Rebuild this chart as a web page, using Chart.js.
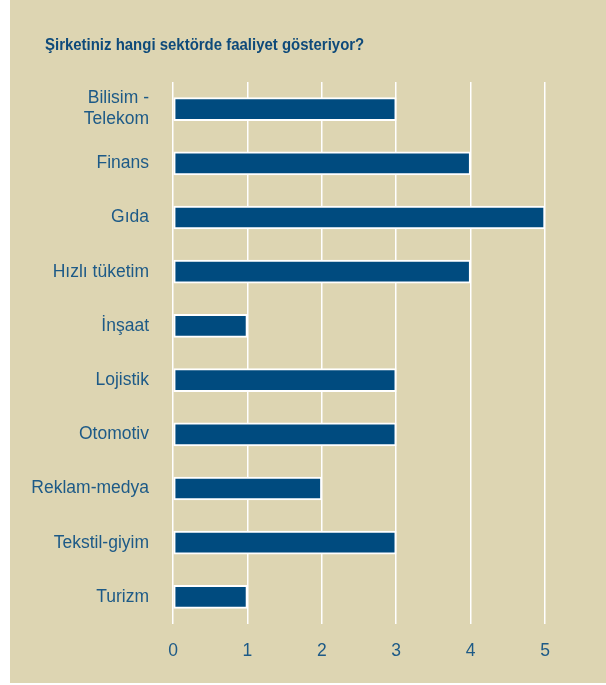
<!DOCTYPE html>
<html>
<head>
<meta charset="utf-8">
<script src="https://cdn.jsdelivr.net/npm/chart.js@4"></script>
<style>
  html, body { margin: 0; padding: 0; background: #fff; }
  #wrap { width: 606px; height: 685px; position: relative; }
</style>
</head>
<body>
<div id="wrap"><canvas id="barCanvas"></canvas></div>
<script>
const titleText = "Şirketiniz hangi sektörde faaliyet gösteriyor?";
const sectors = [
  ["Bilisim -", "Telekom"],
  "Finans",
  "Gıda",
  "Hızlı tüketim",
  "İnşaat",
  "Lojistik",
  "Otomotiv",
  "Reklam-medya",
  "Tekstil-giyim",
  "Turizm",
];
const counts = [3, 4, 5, 4, 1, 3, 3, 2, 3, 1];
const xTicks = [0, 1, 2, 3, 4, 5];

const textColor = "#1d5a87";
const fontFamily = "'Liberation Sans', Arial, sans-serif";

const backgroundPlugin = {
  id: "beige_panel",
  beforeDraw: (chart) => {
    const ctx = chart.ctx;
    ctx.save();
    ctx.fillStyle = "#ddd5b2";
    ctx.fillRect(10, 0, chart.width - 10, 683);
    // title is a little condensed in the original
    ctx.translate(45, 50);
    ctx.scale(0.935, 1);
    ctx.font = "bold 16px " + fontFamily;
    ctx.fillStyle = "#0e4a7a";
    ctx.textBaseline = "alphabetic";
    ctx.fillText(titleText, 0, 0);
    ctx.restore();
  },
};

const data = {
  labels: sectors,
  datasets: [
    {
      data: counts,
      backgroundColor: "#004b7f",
      borderColor: "#ffffff",
      borderWidth: 2,
      borderSkipped: false,
      barThickness: 23,
    },
  ],
};

const config = {
  type: "bar",
  data: data,
  options: {
    indexAxis: "y",
    responsive: true,
    maintainAspectRatio: false,
    animation: false,
    layout: {
      padding: { top: 82, right: 61, bottom: 21, left: 0 },
    },
    plugins: {
      legend: { display: false },
      title: { display: false },
      tooltip: { enabled: false },
    },
    scales: {
      x: {
        min: 0,
        max: 5,
        afterBuildTicks: (scale) => {
          scale.ticks = xTicks.map((v) => ({ value: v }));
        },
        afterFit: (scale) => {
          scale.height = 40;
        },
        border: { display: false },
        grid: {
          color: "#ffffff",
          lineWidth: 1.5,
          drawTicks: false,
        },
        ticks: {
          padding: 17,
          color: textColor,
          font: { family: fontFamily, size: 17.5 },
        },
      },
      y: {
        afterFit: (scale) => {
          scale.width = 173;
        },
        border: { display: false },
        grid: { display: false },
        ticks: {
          padding: 16,
          color: textColor,
          font: { family: fontFamily, size: 17.5 },
        },
      },
    },
  },
  plugins: [backgroundPlugin],
};

const canvas = document.getElementById("barCanvas");
new Chart(canvas.getContext("2d"), config);
</script>
</body>
</html>
